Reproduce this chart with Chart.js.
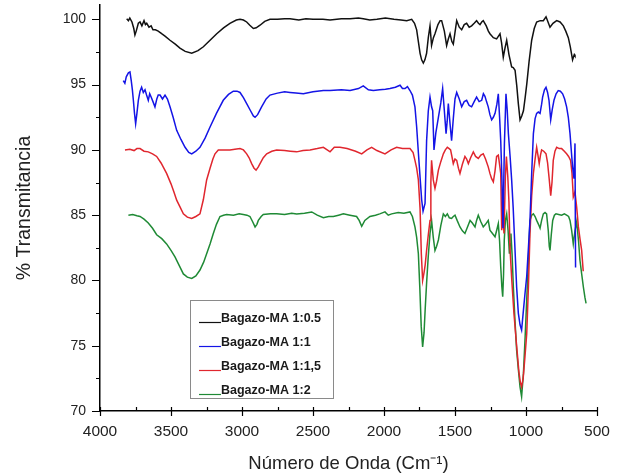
<!DOCTYPE html>
<html>
<head>
<meta charset="utf-8">
<script src="https://cdn.jsdelivr.net/npm/chart.js@4/dist/chart.umd.min.js"></script>
<style>
  html, body { margin: 0; padding: 0; background: #fff; }
  #wrap { width: 620px; height: 475px; }
</style>
</head>
<body>
<div id="wrap"><canvas id="ftir" width="620" height="475"></canvas></div>
<script>
// FTIR spectra of bagasse modified with maleic anhydride (MA) at four ratios.
const seriesLabels = ['Bagazo-MA 1:0.5', 'Bagazo-MA 1:1', 'Bagazo-MA 1:1,5', 'Bagazo-MA 1:2'];
const seriesColors = ['#111111', '#1414e6', '#e0262e', '#1f8a35'];

const xMajorTicks = [4000, 3500, 3000, 2500, 2000, 1500, 1000, 500];
const yMajorTicks = [70, 75, 80, 85, 90, 95, 100];

// Bagazo-MA 1:0.5 — wavenumber (cm-1) and % transmittance
const wn05 = [3812,3800,3790,3775,3762,3754,3745,3730,3718,3705,3690,3680,3671,3655,3640,3627,3610,3590,3566,3540,3507,3470,3437,3400,3354,3310,3272,3225,3178,3130,3085,3040,3014,2990,2967,2945,2920,2900,2873,2840,2803,2750,2700,2662,2600,2550,2500,2430,2380,2300,2239,2180,2146,2100,2050,1990,1930,1880,1840,1805,1785,1770,1758,1746,1735,1723,1712,1700,1688,1676,1665,1652,1641,1620,1605,1594,1575,1559,1547,1535,1522,1512,1500,1488,1470,1453,1435,1418,1400,1383,1365,1348,1335,1324,1312,1301,1280,1265,1254,1230,1207,1195,1183,1172,1160,1148,1136,1120,1101,1090,1077,1065,1054,1042,1030,1018,1006,994,978,960,942,925,900,878,859,845,831,810,784,760,737,720,702,688,672,660,655];
const t05 = [100.05,99.9,100.1,99.8,99.3,98.8,99.1,99.7,99.8,99.5,99.9,99.6,99.7,99.4,99.5,99.2,99.2,99.1,98.9,98.7,98.4,98.1,97.8,97.55,97.4,97.6,97.9,98.4,98.9,99.35,99.7,99.95,100.0,99.95,99.8,99.55,99.3,99.35,99.55,99.85,100.0,100.0,100.05,100.05,99.95,100.05,100.0,100.0,99.95,100.05,100.05,100.1,100.05,99.95,100.0,100.1,100.0,99.95,99.9,100.0,99.7,99.2,98.3,97.4,96.9,96.65,96.9,97.4,98.6,99.5,98.0,98.6,98.9,99.6,99.9,99.9,99.1,98.0,98.5,98.9,98.3,98.1,99.0,99.9,99.4,99.2,99.6,99.7,99.4,99.5,99.7,99.9,99.7,99.6,99.8,99.9,99.5,99.1,98.9,98.6,98.5,98.7,98.9,98.2,97.1,97.8,98.4,97.3,96.35,96.3,96.1,94.9,93.55,92.3,92.6,93.0,94.0,95.1,96.8,98.4,99.3,99.8,99.9,99.9,100.2,99.8,99.4,99.7,99.9,99.8,99.5,99.1,98.6,97.9,96.9,97.3,97.2];

// Bagazo-MA 1:1
const wn1 = [3836,3825,3815,3800,3789,3780,3772,3765,3757,3749,3740,3730,3718,3707,3695,3683,3672,3660,3650,3640,3627,3613,3600,3590,3577,3560,3542,3525,3507,3485,3460,3430,3401,3375,3354,3325,3296,3260,3225,3180,3132,3095,3061,3035,3014,2990,2967,2940,2920,2908,2890,2862,2830,2803,2750,2700,2662,2620,2568,2500,2427,2380,2300,2239,2180,2146,2110,2075,2030,1990,1958,1920,1887,1870,1852,1835,1817,1800,1782,1770,1758,1746,1735,1725,1711,1700,1688,1676,1665,1657,1648,1635,1617,1600,1587,1575,1563,1555,1547,1535,1524,1512,1500,1488,1470,1453,1435,1418,1400,1383,1365,1348,1330,1312,1300,1289,1278,1266,1254,1242,1230,1218,1205,1195,1186,1178,1170,1162,1152,1141,1132,1124,1112,1101,1090,1078,1066,1054,1042,1031,1020,1007,995,983,972,960,948,936,925,913,901,890,883,870,859,848,838,826,815,803,788,773,758,742,728,714,702,690,680,672,662,655,651];
const t1 = [95.3,95.1,95.6,95.9,95.97,95.3,94.6,93.8,92.8,92.0,92.8,93.8,94.5,94.8,94.4,94.6,94.2,93.8,94.3,94.05,93.7,93.3,93.9,94.2,94.2,93.9,94.2,93.9,93.3,92.5,91.5,90.8,90.2,89.8,89.7,89.9,90.2,90.9,91.75,92.8,93.8,94.25,94.5,94.5,94.4,94.0,93.55,93.0,92.6,92.5,92.7,93.3,93.9,94.2,94.35,94.45,94.4,94.35,94.3,94.45,94.55,94.55,94.6,94.55,94.7,94.9,94.6,94.55,94.6,94.65,94.7,94.8,94.95,94.7,94.7,94.85,94.55,94.2,93.3,91.75,89.8,87.9,86.2,85.3,85.9,90.7,93.0,94.05,93.3,93.0,90.0,91.3,92.5,93.6,94.7,93.0,91.25,92.2,93.55,92.0,90.7,92.4,93.9,94.4,93.9,93.3,93.7,93.8,93.4,93.3,93.7,94.05,93.7,93.8,94.3,94.1,93.7,93.3,92.7,92.3,92.5,92.8,93.5,94.3,92.5,90.7,88.0,84.0,90.5,94.3,93.0,91.25,89.5,87.7,85.5,82.5,79.5,77.5,76.6,76.2,77.5,79.0,80.3,82.5,84.6,88.2,91.25,92.4,92.8,92.9,92.8,93.5,94.05,94.6,94.8,94.4,93.8,92.3,93.1,93.8,94.3,94.55,94.5,94.3,93.9,93.3,92.5,91.25,89.8,88.7,87.8,90.5,81.0];

// Bagazo-MA 1:1,5
const wn15 = [3824,3790,3760,3740,3718,3690,3660,3630,3601,3570,3531,3500,3480,3460,3435,3413,3385,3354,3325,3296,3272,3249,3225,3205,3190,3167,3130,3085,3050,3014,2990,2967,2950,2932,2915,2901,2885,2873,2850,2826,2790,2756,2700,2660,2615,2570,2521,2470,2427,2400,2380,2350,2310,2260,2200,2157,2120,2087,2050,1993,1950,1911,1870,1817,1795,1782,1770,1758,1746,1737,1728,1718,1710,1700,1688,1676,1670,1665,1653,1641,1630,1617,1600,1582,1568,1554,1541,1531,1520,1512,1500,1488,1476,1465,1448,1430,1418,1406,1390,1371,1355,1336,1318,1301,1285,1266,1254,1242,1230,1218,1207,1195,1185,1178,1171,1164,1155,1145,1138,1128,1120,1113,1100,1085,1066,1050,1040,1031,1020,1007,995,983,972,960,948,936,925,916,907,898,890,875,859,848,836,826,817,808,796,784,766,749,730,714,700,686,676,667,655,643,631,620,608,597];
const t15 = [90.0,90.05,89.95,90.1,90.1,89.9,89.85,89.7,89.5,89.0,88.2,87.4,86.8,86.15,85.6,85.1,84.85,84.75,84.9,85.1,86.2,87.7,88.6,89.3,89.7,90.0,90.0,90.0,90.05,90.1,90.0,89.7,89.4,88.95,88.6,88.45,88.7,88.95,89.4,89.7,89.9,90.0,89.95,89.9,89.85,89.95,90.0,90.1,90.2,90.0,89.85,90.2,90.2,90.1,89.9,89.7,90.0,90.2,89.95,89.7,90.0,90.2,90.1,90.1,89.8,89.2,88.6,87.7,85.5,82.0,80.0,80.6,81.2,82.3,83.5,84.6,87.5,89.2,87.7,87.05,87.6,88.45,89.1,89.7,90.0,90.2,90.1,90.0,89.4,88.95,89.3,89.2,88.6,88.2,88.9,89.5,89.3,88.95,89.4,89.85,89.5,89.35,89.6,89.7,89.3,88.7,88.2,87.8,87.55,88.4,89.5,89.6,88.8,88.2,83.85,85.4,83.6,88.0,89.5,87.9,86.0,82.5,80.0,77.5,75.0,73.0,72.2,71.85,72.5,74.2,75.9,79.5,83.6,86.5,88.2,89.3,90.2,89.6,88.95,89.6,90.0,89.9,89.7,89.0,87.7,86.5,87.5,89.2,89.9,90.2,90.1,90.1,89.9,89.7,89.5,89.2,88.2,86.4,86.8,85.6,84.1,83.2,82.3,80.7];

// Bagazo-MA 1:2
const wn2 = [3800,3770,3740,3718,3690,3660,3630,3601,3565,3531,3500,3472,3440,3413,3385,3354,3325,3296,3270,3249,3225,3202,3180,3155,3130,3108,3060,3020,2991,2965,2944,2925,2908,2895,2885,2865,2850,2800,2756,2700,2650,2615,2560,2509,2470,2427,2390,2357,2320,2286,2240,2193,2175,2157,2135,2099,2060,2030,1993,1970,1946,1900,1860,1817,1800,1782,1770,1758,1748,1738,1728,1718,1710,1700,1688,1676,1665,1653,1641,1630,1617,1600,1582,1568,1554,1540,1524,1512,1500,1485,1465,1448,1430,1412,1394,1378,1359,1348,1336,1318,1301,1285,1266,1254,1236,1218,1205,1195,1186,1178,1170,1164,1158,1153,1145,1136,1126,1117,1111,1106,1098,1089,1078,1066,1054,1042,1031,1018,1006,995,983,972,960,948,936,925,912,901,890,878,866,855,843,836,831,822,812,800,789,770,749,730,714,700,690,678,667,655,643,630,620,608,596,585,577];
const t2 = [85.0,85.05,84.95,84.9,84.7,84.4,84.0,83.5,83.2,82.8,82.3,81.8,81.1,80.5,80.25,80.15,80.35,80.8,81.4,82.05,82.8,83.6,84.3,84.9,85.0,85.05,85.0,85.1,85.05,85.0,84.9,84.5,84.1,84.3,84.6,84.9,85.05,85.1,85.1,85.05,85.15,85.1,85.15,85.25,85.0,84.8,84.9,84.9,85.0,85.1,85.0,84.9,84.6,84.15,84.6,84.9,85.0,85.1,85.25,85.0,85.1,85.2,85.15,85.25,84.9,84.1,83.3,82.05,79.5,76.5,74.9,76.0,77.8,79.8,81.9,83.6,84.6,83.3,82.3,82.6,83.1,84.2,85.1,84.9,85.1,84.8,84.75,84.9,85.0,84.6,84.1,83.8,83.6,84.1,84.6,84.4,84.1,84.6,85.0,84.5,84.1,84.3,84.6,83.85,83.6,83.35,83.9,84.35,83.0,81.05,79.5,78.75,80.5,83.1,84.6,85.1,83.8,82.05,82.8,83.6,82.0,79.5,77.0,74.65,73.2,71.85,71.1,72.9,75.7,78.5,81.5,84.6,85.0,85.1,84.9,84.6,84.3,84.0,84.6,85.1,85.2,85.1,83.8,82.6,82.3,83.5,84.6,85.0,85.1,85.05,85.0,85.1,85.0,84.9,84.6,83.8,82.8,83.8,84.5,83.0,81.55,80.5,79.5,78.7,78.25];

const spectra = [[wn05, t05], [wn1, t1], [wn15, t15], [wn2, t2]];

const datasets = spectra.map(([wn, t], i) => ({
  label: seriesLabels[i],
  data: wn.map((w, k) => ({ x: w, y: t[k] })),
  borderColor: seriesColors[i],
  borderWidth: 1.5,
  pointRadius: 0,
  tension: 0,
  fill: false
}));

const FONT = "'Liberation Sans', Arial, sans-serif";

// Tick marks: x ticks cross the bottom axis, y ticks point outward; half-step minor ticks.
const tickMarks = {
  id: 'tickMarks',
  afterDraw(chart) {
    const { ctx, scales: { x, y }, chartArea } = chart;
    ctx.save();
    ctx.strokeStyle = '#000';
    ctx.lineWidth = 1.2;
    ctx.beginPath();
    xMajorTicks.forEach((v, i) => {
      const px = Math.round(x.getPixelForValue(v)) + 0.5;
      ctx.moveTo(px, chartArea.bottom - 4);
      ctx.lineTo(px, chartArea.bottom + 5);
      if (i < xMajorTicks.length - 1) {
        const mx = Math.round(x.getPixelForValue((v + xMajorTicks[i + 1]) / 2)) + 0.5;
        ctx.moveTo(mx, chartArea.bottom - 4);
        ctx.lineTo(mx, chartArea.bottom);
      }
    });
    yMajorTicks.forEach((v, i) => {
      const py = Math.round(y.getPixelForValue(v)) + 0.5;
      ctx.moveTo(chartArea.left - 8, py);
      ctx.lineTo(chartArea.left, py);
      if (i < yMajorTicks.length - 1) {
        const my = Math.round(y.getPixelForValue((v + yMajorTicks[i + 1]) / 2)) + 0.5;
        ctx.moveTo(chartArea.left - 4, my);
        ctx.lineTo(chartArea.left, my);
      }
    });
    ctx.stroke();
    ctx.restore();
  }
};

// Boxed legend inside the plot, lower left, with underline-style line samples.
const boxLegend = {
  id: 'boxLegend',
  afterDraw(chart) {
    const { ctx } = chart;
    const bx = 190, by = 300, bw = 143, bh = 98;
    ctx.save();
    ctx.strokeStyle = '#8a8a8a';
    ctx.lineWidth = 1;
    ctx.strokeRect(bx + 0.5, by + 0.5, bw, bh);
    ctx.font = "bold 12.5px " + FONT;
    ctx.textBaseline = 'alphabetic';
    ctx.fillStyle = '#1a1a1a';
    chart.data.datasets.forEach((ds, i) => {
      const base = 322 + i * 24;
      ctx.strokeStyle = ds.borderColor;
      ctx.lineWidth = 1.2;
      ctx.beginPath();
      ctx.moveTo(bx + 9, base + 0.5);
      ctx.lineTo(bx + 31, base + 0.5);
      ctx.stroke();
      ctx.fillText(ds.label, bx + 31, base);
    });
    ctx.restore();
  }
};

const plainNumber = v => String(v);

new Chart(document.getElementById('ftir'), {
  type: 'line',
  data: { datasets },
  plugins: [tickMarks, boxLegend],
  options: {
    responsive: false,
    animation: false,
    devicePixelRatio: 1,
    layout: { padding: { top: 5, right: 23, left: 0, bottom: 0 } },
    plugins: { legend: { display: false }, tooltip: { enabled: false } },
    scales: {
      x: {
        type: 'linear',
        reverse: true,
        min: 500,
        max: 4000,
        afterBuildTicks: s => { s.ticks = xMajorTicks.map(v => ({ value: v })); },
        afterFit: s => { s.height = 64; s.paddingLeft = 0; s.paddingRight = 0; },
        grid: { drawOnChartArea: false, drawTicks: false },
        border: { color: '#000', width: 1.5 },
        ticks: { color: '#222', font: { family: FONT, size: 15.5 }, padding: 11, maxRotation: 0, autoSkip: false, callback: plainNumber },
        title: { display: true, text: 'Número de Onda (Cm⁻¹)', color: '#222', font: { family: FONT, size: 18.5 }, padding: { top: 0, bottom: 0 } }
      },
      y: {
        type: 'linear',
        min: 70,
        max: 101.1,
        afterBuildTicks: s => { s.ticks = yMajorTicks.map(v => ({ value: v })); },
        afterFit: s => { s.width = 100; s.paddingTop = 0; s.paddingBottom = 0; },
        grid: { drawOnChartArea: false, drawTicks: false },
        border: { color: '#000', width: 1.5 },
        ticks: { color: '#222', font: { family: FONT, size: 14 }, padding: 14, callback: plainNumber },
        title: { display: true, text: '% Transmitancia', color: '#222', font: { family: FONT, size: 19.5 }, padding: { top: 13, bottom: 0 } }
      }
    }
  }
});
</script>
</body>
</html>
